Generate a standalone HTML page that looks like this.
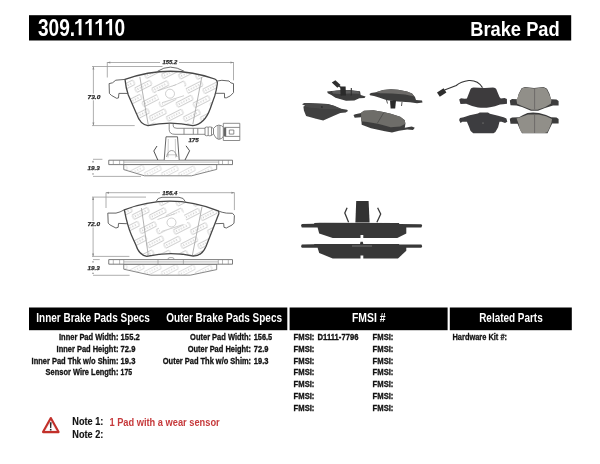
<!DOCTYPE html>
<html><head><meta charset="utf-8">
<style>
html,body{margin:0;padding:0;background:#fff;width:600px;height:464px;overflow:hidden}
svg{display:block;will-change:transform}
text{font-family:"Liberation Sans",sans-serif;font-weight:bold}
</style></head>
<body>
<svg width="600" height="464" viewBox="0 0 600 464">
<!-- title bar -->
<rect x="29" y="15.2" width="542.2" height="25.3" fill="#000"/>
<text x="38" y="35.6" font-size="23" fill="#fff" textLength="87" lengthAdjust="spacingAndGlyphs">309.<tspan fill="none">1111</tspan>0</text>
<path d="M78.7 35.3 L78.7 22.6 Q77.3 24.2 75.2 24.4 L75.2 22.2 Q78.10000000000001 21.6 78.9 19.1 L81.5 19.1 L81.5 35.3 Z" fill="#fff"/><path d="M88.9 35.3 L88.9 22.6 Q87.5 24.2 85.4 24.4 L85.4 22.2 Q88.30000000000001 21.6 89.10000000000001 19.1 L91.7 19.1 L91.7 35.3 Z" fill="#fff"/><path d="M99.0 35.3 L99.0 22.6 Q97.6 24.2 95.5 24.4 L95.5 22.2 Q98.4 21.6 99.2 19.1 L101.8 19.1 L101.8 35.3 Z" fill="#fff"/><path d="M109.3 35.3 L109.3 22.6 Q107.89999999999999 24.2 105.8 24.4 L105.8 22.2 Q108.7 21.6 109.5 19.1 L112.1 19.1 L112.1 35.3 Z" fill="#fff"/>
<text x="470.2" y="36.2" font-size="21" fill="#fff" textLength="89.5" lengthAdjust="spacingAndGlyphs">Brake Pad</text>

<!-- ===== DRAWING (top pad) ===== -->

<defs>
<filter id="soft" x="-5%" y="-20%" width="110%" height="140%"><feGaussianBlur stdDeviation="0.35"/></filter>
<pattern id="logo" patternUnits="userSpaceOnUse" width="30" height="16" patternTransform="rotate(-27) translate(4 2)">
<g fill="none" stroke="#b0b0b0" stroke-width="0.6">
<rect x="1" y="1.5" width="17" height="5" rx="0.8"/>
<path d="M3.5 3v2M6.2 3v2M8.9 3v2M11.6 3v2M14.3 3v2"/>
<rect x="16" y="9.5" width="17" height="5" rx="0.8"/>
<path d="M18.5 11v2M21.2 11v2M23.9 11v2M26.6 11v2M29.3 11v2"/>
<rect x="-14" y="9.5" width="17" height="5" rx="0.8"/>
<path d="M-11.5 11v2M-8.8 11v2M-6.1 11v2M-3.4 11v2M-0.7 11v2"/>
</g>
</pattern>
</defs>
<g id="drawing" fill="none" stroke-linecap="butt" stroke-linejoin="round">
 <!-- dimension lines -->
 <g stroke="#9a9a9a" stroke-width="0.8">
  <path d="M107.3 62.5H160M179 62.5H233.5"/>
  <path d="M107.3 62V77.5M233.5 62V80.3"/>
  <path d="M93.4 66.5V93.6M93.4 100.3V125.6"/>
  <path d="M92 66.5H162.5M92 125.6H134.7"/>
  <path d="M106 192.7H160M179 192.7H234.4"/>
  <path d="M106 192.5V208M234.4 192.5V210.1"/>
  <path d="M93.1 197.1V221M93.1 227.5V256.4"/>
  <path d="M92 197.1H146M92 256.4H129.4"/>
  <path d="M93 159.3H102.4M93 176.4H141"/>
  <path d="M93 259.6H99.7M93 275.3H129.6"/>
 </g>
 <g stroke="#555" stroke-width="0.9">
  <path d="M93 160.9V162.5M93 173.3V174.6M93 261.2V262.5M93 272.7V274"/>
 </g>
 <g fill="#8a8a8a" stroke="none">
  <path d="M107.3 62.5l3 -1v2z M233.5 62.5l-3 -1v2z"/>
  <path d="M93.4 66.5l-1 3h2z M93.4 125.6l-1 -3h2z"/>
  <path d="M106 192.7l3 -1v2z M234.4 192.7l-3 -1v2z"/>
  <path d="M93.1 197.1l-1 3h2z M93.1 256.4l-1 -3h2z"/>
 </g>
 <g fill="#2a2a2a" stroke="#2a2a2a" stroke-width="0.25" font-size="5.6" font-style="italic">
  <text x="162.4" y="64.3" textLength="14.9" lengthAdjust="spacingAndGlyphs">155.2</text>
  <text x="87.5" y="99" textLength="12.8" lengthAdjust="spacingAndGlyphs">73.0</text>
  <text x="188.4" y="141.8" textLength="10.4" lengthAdjust="spacingAndGlyphs">175</text>
  <text x="87.5" y="169.5" textLength="12.3" lengthAdjust="spacingAndGlyphs">19.3</text>
  <text x="162.2" y="194.8" textLength="15.1" lengthAdjust="spacingAndGlyphs">156.4</text>
  <text x="87.4" y="225.7" textLength="12.6" lengthAdjust="spacingAndGlyphs">72.0</text>
  <text x="87.5" y="269.8" textLength="12.3" lengthAdjust="spacingAndGlyphs">19.3</text>
 </g>

 <!-- TOP PAD front view -->
 <path d="M125 79.4 Q170 63.3 214.8 79 Q217.8 80.5 217.3 84 Q216.5 90 214.75 95.9 L210.2 108.8 Q204.5 124.5 192.8 125.6 Q170 120.5 147.9 125.6 Q140 124.5 136.6 113.9 L128.3 95 Q125.8 88 125 79.4 Z" fill="url(#logo)" stroke="#474747" stroke-width="1.3"/>
 <g fill="#fff" stroke="#b0b0b0" stroke-width="0.6" transform="translate(-2 -1.3)"><path d="M158 93 L185 84 L190 96 L163 105 Z" stroke="none"/><circle cx="172" cy="95" r="4.5"/><path d="M160 92 L178 86 M164 104 L186 97"/></g>
 <path d="M157.5 71.3 Q170 63 184.2 71.3" stroke="#5a5a5a" stroke-width="0.9"/>
 <path d="M139.8 76.8 L148.3 125 M201.8 77.1 L192.8 124.3" stroke="#a0a0a0" stroke-width="0.8"/>
 <path d="M125 79.4 L115.8 80.2 L112.5 82.8 L109.1 83.6 L109.4 93.4 L111.3 95.3 L116.6 98.3 L118.5 97.9 L118.9 93.4 L128 93.4" stroke="#555" stroke-width="0.9"/>
 <path d="M217.3 81 L221.9 80.3 L229 81 L230.9 82.9 L233.5 83.6 L233.5 92.6 L230.3 95.9 L226.4 97.8 L224.5 97.8 L224.5 93.3 L215 93.3" stroke="#555" stroke-width="0.9"/>
 <!-- sensor wire -->
 <g stroke="#707070" stroke-width="0.8">
  <path d="M173.2 123.5 V126 Q173.2 128.3 177 128.3 H207"/>
  <path d="M169.2 123.5 V129.5 Q169.2 134.3 175 134.3 H207"/>
  <path d="M184 128.3V134.3 M193.3 128.3V134.3 M197.8 128.3V134.3"/>
  <path d="M205 127.6 Q206.5 126.6 208.2 127.2 Q209.8 126.6 211.5 127.2 L213.5 128.5 L213.5 134 L211.5 135.4 Q209.8 136.2 208.2 135.5 Q206.5 136.2 205 135.2 Z" fill="#fff"/>
  <path d="M208.2 127.2V135.5 M211.5 127.2V135.4"/>
  <path d="M213.5 128.5 Q216 125.1 218.8 125.1 Q222 125.1 224 128 L224 135.5 Q222 139.4 218.8 139.4 Q216 139.4 213.5 134 Z" fill="#fff"/>
  <path d="M218 125.4V139.1 M219.9 125.3V139.2"/>
  <rect x="223.3" y="123.3" width="16.5" height="17.2" fill="#fff"/>
  <path d="M224.5 127.4H239.8 M224.5 136.4H239.8"/>
  <rect x="223.6" y="127.6" width="2.6" height="8.6" fill="#666" stroke="none"/>
  <rect x="229.3" y="130" width="4.5" height="4.1"/>
 </g>

 <!-- TOP side view -->
 <path d="M123.75 164.5 V169.6 L144.5 175.8 L191.5 175.8 L216.7 169.4 V164.5 Z" fill="url(#logo)" stroke="#6a6a6a" stroke-width="0.8" fill-opacity="0.7"/>
 <rect x="108.75" y="160.2" width="123.75" height="4.4" fill="#fff" stroke="#5a5a5a" stroke-width="0.8"/>
 <path d="M123.75 162.1 H218.75" stroke="#8a8a8a" stroke-width="0.6"/>
 <path d="M113.3 160V164.5 M119.6 160V164.5 M123.75 160V164.5 M218.75 160V164.5 M222.5 160V164.5 M228.3 160V164.5" stroke="#888" stroke-width="0.6"/>
 <path d="M164.2 160 L166 136.8 L177.5 136.8 L179.2 160" fill="#fff" stroke="#555" stroke-width="0.9"/>
 <path d="M166.5 157 Q168 150.5 171.7 150.5 Q175.5 150.5 177 157" stroke="#777" stroke-width="0.7"/>
 <path d="M166.8 154.8 H176.8 M168.3 139 L168 157.5 M175.3 139 L175.6 157.5" stroke="#999" stroke-width="0.5"/>
 <path d="M157.8 160 L153.8 151 L157 146" stroke="#3a3a3a" stroke-width="0.9"/>
 <path d="M185 160 L189.6 150.8 L186 145.8" stroke="#3a3a3a" stroke-width="0.9"/>

 <!-- LOWER PAD front view -->
 <path d="M124.3 209.8 Q171 192 218.2 210.9 Q219.2 212 218.7 214 L214.9 223.8 L206 246.5 Q202 256 193.3 256 Q170 251 146.8 256.4 Q139 255 136.2 245.8 L131.4 235 Q127.5 226 124.3 209.8 Z" fill="url(#logo)" stroke="#474747" stroke-width="1.3"/>
 <g fill="#fff" stroke="#b0b0b0" stroke-width="0.6" transform="translate(-2.5 -5.5)"><path d="M158 226 L185 217 L190 229 L163 238 Z" stroke="none"/><circle cx="174" cy="228" r="4.5"/><path d="M160 225 L178 219 M164 237 L186 230"/></g>
 <path d="M156 201.6 Q157.5 197.5 162 197.3 L179 197.3 Q184 197.5 185.3 201.6" stroke="#5a5a5a" stroke-width="0.9"/>
 <path d="M141.4 208 L148.3 255.5 M202 206.8 L192.3 255.5" stroke="#a0a0a0" stroke-width="0.8"/>
 <path d="M124.3 209.8 Q120 212.3 116 213.1 L107.8 213.1 L108.2 223.1 L110.1 225 L115.9 228 L118.2 227.3 L118.5 223.4 L126.9 223.7" stroke="#555" stroke-width="0.9"/>
 <path d="M218.2 210.9 Q222 212.5 226.3 213.1 L232.5 213.3 L234.4 215.5 L234 223.1 L232.1 225 L226.3 228 L224 227.3 L223.7 223.4 L215.3 223.7" stroke="#555" stroke-width="0.9"/>

 <!-- LOWER side view -->
 <path d="M123.75 264.2 V269.2 L150.5 275.2 L190.2 275.2 L216.7 269.6 V264.2 Z" fill="url(#logo)" stroke="#6a6a6a" stroke-width="0.8" fill-opacity="0.7"/>
 <rect x="108.75" y="259.6" width="123.75" height="4.6" fill="#fff" stroke="#5a5a5a" stroke-width="0.8"/>
 <path d="M123.75 261.9 H218.3" stroke="#8a8a8a" stroke-width="0.6"/>
 <path d="M113.3 259.6V264.2 M119.6 259.6V264.2 M123.75 259.6V264.2 M218.3 259.6V264.2 M222.5 259.6V264.2 M228.3 259.6V264.2 M158 259.6V264.2 M183.4 259.6V264.2" stroke="#888" stroke-width="0.6"/>
 <path d="M168 259 Q168 257.6 170 257.6 L172 257.6 Q174 257.6 174 259" stroke="#777" stroke-width="0.6"/>
</g>

<!-- ===== PHOTOS ===== -->
<g id="photos" stroke="none" filter="url(#soft)">
 <!-- photo 1 -->
 <path d="M327.1 91.6 L331.7 90.9 L340 90.2 L349.2 90.1 L360 91.3 L360.7 95.1 L365.6 96.5 L364.5 98 L359.3 98.3 L354.4 100.6 L346 100.8 L335.5 97.8 L331.3 95 L327.8 93.2 Z" fill="#3c3c3c"/>
 <path d="M331.7 91.6 L337 90.6 L349.2 90.3 L358.8 91.5 L359.8 93.8 L350 93.5 L340 94 L333 93.5 Z" fill="#5c5c5c"/>
 <path d="M331.8 82.6 L335.4 80.2 L340.6 85 L337.4 87.8 Z" fill="#2e2e2e"/>
 <path d="M336.5 84.5 L341 87.5" stroke="#333" stroke-width="1.2"/>
 <path d="M340.2 86.4 L345.6 86.4 L346 95.5 L340.6 95.8 Z" fill="#2a2a2a"/>
 <path d="M351.3 88 L351.3 95.5" stroke="#2e2e2e" stroke-width="1.1"/>
 <!-- photo 2 -->
 <path d="M302 104.3 L304.3 103 L308.8 103 L327.7 103.9 L334 105.7 L341.2 108.8 L347.1 109.7 L348 111 L345.7 112.4 L340.3 112.9 L332.2 116.5 L323.2 120.5 L316 118.7 L306.1 116 L303.9 110.6 L303.4 106.6 L305.2 105.7 Z" fill="#414141"/>
 <path d="M304.3 103.2 L327.7 104 L334 105.8 L341 108.9 L325 109 L306 107 Z" fill="#4a4a4a"/>
 <circle cx="321.9" cy="107" r="0.9" fill="#2a2a2a"/>
 <!-- photo 3 -->
 <path d="M369.5 94 L371 93 L376 92.2 L383 90 L391 89.2 L398 89.8 L407 91.5 L412 93.5 L415 97 L416 100 L422 100.5 L422.5 102.5 L417 103.2 L410 102.3 L398 101.5 L387 100.3 L379 97.5 L374 96 L370 95.2 Z" fill="#3c3c3c"/>
 <path d="M376 92.2 L383 90 L391 89.2 L398 89.8 L407 91.5 L412 93.5 L414.5 96.5 L405 94.6 L392 93.4 L380 93.2 Z" fill="#6c6b68"/>
 <path d="M390 100.5 L396 100.5 L395.2 108.6 L390.6 108.6 Z" fill="#2a2a2a"/>
 <path d="M386.5 100 L387.5 103.5 M402 102 L401.5 106" stroke="#444" stroke-width="0.9"/>
 <!-- photo 4 -->
 <path d="M353.5 114.9 L355.3 114.3 L361.1 113 L364 110.8 L373.3 110.3 L383.3 112 L390.8 113.8 L400.2 116.7 L404.8 120.2 L405.4 124 L404.8 127.8 L411.8 126.6 L414.8 127.8 L413 130 L407.2 129.5 L399 130.7 L392 132.4 L385 131.3 L371 128.3 L361.7 124.8 L361.1 117.3 L354.7 117.8 Z" fill="#3e3e3e"/>
 <path d="M361.1 112.6 L364 110.8 L373.3 110.3 L383.3 112 L390.8 113.8 L400.2 116.7 L404.8 120.2 L405.4 123.7 L400.2 126.6 L390.8 127.2 L378 123.7 L367.5 121.9 L361.1 121.3 Z" fill="#6e6d69"/>
 <path d="M383.8 112.6 L377.4 123.1" stroke="#4e4e4c" stroke-width="0.9"/>
 <!-- photo 5 -->
 <path d="M482.5 87.6 Q478 80 468.75 80.5 Q461 81.5 456.25 85.5 L444.5 90" fill="none" stroke="#333" stroke-width="1.1"/>
 <path d="M437 92.4 L443.6 88.2 L446.4 92.6 L439.8 96.8 Z" fill="#2e2e2e"/>
 <path d="M470.6 89 Q471 87.4 473.5 87.4 L485 87.9 L493 87.4 Q495.6 87.4 496.2 89 L499.5 97 L500.8 98.6 L504.5 98 L506.9 99 L507 103.8 L503 104.3 L500 104.4 Q495 106.5 490 107.2 Q484 108.4 478 107.4 Q472 106.5 466.2 103.8 L460.5 104 L459.2 99.5 L461 98.2 L464.8 98.8 L466.9 98.5 Z" fill="#3d3b3e"/>
 <!-- photo 6 -->
 <path d="M477.9 113.5 L479.8 112.6 L488 112.6 L489.9 113.7 L498.1 115.8 L503.6 117.2 L506.4 118.6 L507.3 121.8 L505 123.1 L501.8 121.8 L499.5 121.8 L498.1 127.3 L495.4 131.9 L493.5 133.2 L473.3 133.2 L470.6 130.9 L468.8 126.3 L466.9 121.8 L462.3 121.8 L460.5 123.1 L459.1 119.9 L460 118.1 L463.7 117.2 L469.7 115.3 Z" fill="#3e3c3f"/>
 <circle cx="483" cy="123.1" r="0.8" fill="#6a6a6a"/>
 <!-- photo 7 -->
 <path d="M509.8 100.5 L512 99 L517.5 99.2 L518.6 94 L521.6 88.2 L524.9 86.9 L534 88.1 L543.6 86.9 L547 88.8 L549.6 94 L551 99.2 L556.5 99.4 L558.6 101 L558.6 105.6 L553 105.6 L545 108 L538 110.8 L531 110.8 L522 107 L516.5 105.4 L510.5 105.2 Z" fill="#3c3c3c"/>
 <path d="M521.9 88.6 L524.9 87.4 L534 88.6 L543.6 87.4 L546.6 89.2 L549 94.1 L551.4 100.1 L550.8 103.7 L544.8 107.3 L537.6 109.7 L531.5 109.7 L521.9 106.1 L517.1 103.7 L516.5 100.1 L518.9 94.1 Z" fill="#918f89"/>
 <path d="M534.6 89 L534.6 109.5" stroke="#6e6c69" stroke-width="1"/>
 <!-- photo 8 -->
 <path d="M509.8 118.8 L512 117.6 L519 117.2 L523.1 115 L527.5 113 Q533 112 539 113 L546 115 L551.2 117.2 L556.5 117.6 L558.6 119 L558.6 123.6 L552.2 123.6 L549.5 129 L547.5 133.2 L522 133.2 L519.8 129 L517.5 123.8 L510.5 123.8 Z" fill="#3a3a3a"/>
 <path d="M516.5 118.6 L523.1 116.2 L527.9 114.5 L538.8 114.5 L546 116.2 L552 119 L551.4 123 L549 129 L547.2 132.2 L544.8 133 L522.5 133 L520.5 131 L519.5 128 L518.3 123 Z" fill="#918f89"/>
 <path d="M534.6 115 L534.6 133" stroke="#6e6c69" stroke-width="1"/>
 <!-- side view photos -->
 <g fill="#393939">
  <path d="M355.4 222.4 L356.2 201 L368.6 201 L369.6 222.4 Z" fill="#333"/>
  <path d="M301.8 223.9 L313.9 223.7 L314.5 222.9 L320 222.7 L398.8 222.9 L399.5 224 L421.4 224.2 L422.2 225.6 L421.4 227.5 L406.3 227.5 L406.3 233.5 L397.3 238 L363.3 238 L363.3 235 L360.5 235 L360.5 238 L332.7 238 L319.2 233.5 L317.6 227.5 L301.8 227.5 L301 225.6 Z"/>
  <path d="M301.8 244.4 L313.9 244.2 L314.5 243.9 L360 243.9 L360.5 241.8 L362.8 241.8 L363.3 243.9 L398.8 243.9 L399.5 244.4 L421.4 244.5 L422.2 246.2 L421.4 247.8 L406.3 247.8 L406.3 250.8 L398 258.4 L363.3 258.4 L363.3 255.4 L360.5 255.4 L360.5 258.4 L332.7 258.4 L319.2 253.1 L317.6 247.8 L301.8 247.8 L301 246.2 Z"/>
 </g>
 <path d="M352 246 L372 246" stroke="#707070" stroke-width="1"/>
 <path d="M347.1 207.8 L344.8 213.1 L348.6 222.2 M377.6 207.8 L380.7 213.9 L376.9 222.2" fill="none" stroke="#3a3a3a" stroke-width="1.3"/>

</g>

<!-- table headers -->
<rect x="29" y="307.5" width="258.3" height="22.7" fill="#000"/>
<rect x="289.6" y="307.5" width="158" height="22.7" fill="#000"/>
<rect x="449.8" y="307.5" width="122" height="22.7" fill="#000"/>
<g fill="#fff" font-size="12">
<text x="36.3" y="322.2" textLength="113.6" lengthAdjust="spacingAndGlyphs">Inner Brake Pads Specs</text>
<text x="166.2" y="322.2" textLength="115.8" lengthAdjust="spacingAndGlyphs">Outer Brake Pads Specs</text>
<text x="352" y="322.2" textLength="33.5" lengthAdjust="spacingAndGlyphs">FMSI #</text>
<text x="479.2" y="322.2" textLength="63.5" lengthAdjust="spacingAndGlyphs">Related Parts</text>
</g>

<g fill="#111" stroke="#111" stroke-width="0.32" font-size="9">
<text x="59" y="340.3" textLength="59.4" lengthAdjust="spacingAndGlyphs">Inner Pad Width:</text>
<text x="56.6" y="352" textLength="61.8" lengthAdjust="spacingAndGlyphs">Inner Pad Height:</text>
<text x="31.6" y="363.7" textLength="86.8" lengthAdjust="spacingAndGlyphs">Inner Pad Thk w/o Shim:</text>
<text x="45.6" y="375.4" textLength="72.8" lengthAdjust="spacingAndGlyphs">Sensor Wire Length:</text>
<text x="120.6" y="340.3" textLength="19.2" lengthAdjust="spacingAndGlyphs">155.2</text>
<text x="120.6" y="352" textLength="14.8" lengthAdjust="spacingAndGlyphs">72.9</text>
<text x="120.6" y="363.7" textLength="14.8" lengthAdjust="spacingAndGlyphs">19.3</text>
<text x="120.6" y="375.4" textLength="11.5" lengthAdjust="spacingAndGlyphs">175</text>

<text x="190.1" y="340.3" textLength="61" lengthAdjust="spacingAndGlyphs">Outer Pad Width:</text>
<text x="187.7" y="352" textLength="63.4" lengthAdjust="spacingAndGlyphs">Outer Pad Height:</text>
<text x="162.8" y="363.7" textLength="88.3" lengthAdjust="spacingAndGlyphs">Outer Pad Thk w/o Shim:</text>
<text x="253.8" y="340.3" textLength="18.3" lengthAdjust="spacingAndGlyphs">156.5</text>
<text x="253.8" y="352" textLength="14.6" lengthAdjust="spacingAndGlyphs">72.9</text>
<text x="253.8" y="363.7" textLength="14.6" lengthAdjust="spacingAndGlyphs">19.3</text>

<text x="293.6" y="340.3" textLength="20.8" lengthAdjust="spacingAndGlyphs">FMSI:</text>
<text x="293.6" y="352" textLength="20.8" lengthAdjust="spacingAndGlyphs">FMSI:</text>
<text x="293.6" y="363.7" textLength="20.8" lengthAdjust="spacingAndGlyphs">FMSI:</text>
<text x="293.6" y="375.4" textLength="20.8" lengthAdjust="spacingAndGlyphs">FMSI:</text>
<text x="293.6" y="387.1" textLength="20.8" lengthAdjust="spacingAndGlyphs">FMSI:</text>
<text x="293.6" y="398.8" textLength="20.8" lengthAdjust="spacingAndGlyphs">FMSI:</text>
<text x="293.6" y="410.5" textLength="20.8" lengthAdjust="spacingAndGlyphs">FMSI:</text>
<text x="317.6" y="340.3" textLength="40.8" lengthAdjust="spacingAndGlyphs">D1111-7796</text>
<text x="372.6" y="340.3" textLength="20.8" lengthAdjust="spacingAndGlyphs">FMSI:</text>
<text x="372.6" y="352" textLength="20.8" lengthAdjust="spacingAndGlyphs">FMSI:</text>
<text x="372.6" y="363.7" textLength="20.8" lengthAdjust="spacingAndGlyphs">FMSI:</text>
<text x="372.6" y="375.4" textLength="20.8" lengthAdjust="spacingAndGlyphs">FMSI:</text>
<text x="372.6" y="387.1" textLength="20.8" lengthAdjust="spacingAndGlyphs">FMSI:</text>
<text x="372.6" y="398.8" textLength="20.8" lengthAdjust="spacingAndGlyphs">FMSI:</text>
<text x="372.6" y="410.5" textLength="20.8" lengthAdjust="spacingAndGlyphs">FMSI:</text>

<text x="452.5" y="340.3" textLength="54.5" lengthAdjust="spacingAndGlyphs">Hardware Kit #:</text>
</g>

<!-- notes -->
<g>
<path d="M50.8 418 L58.6 432.1 L43 432.1 Z" fill="#f6e2e2" stroke="#c2302a" stroke-width="2.1" stroke-linejoin="round"/>
<path d="M50.8 421.2 L55.6 430.3 L46 430.3 Z" fill="#fff"/>
<path d="M49.8 422.3 L51.6 422.3 L51.3 428 L50.1 428 Z" fill="#2a2a2a"/>
<rect x="49.9" y="428.9" width="1.6" height="1.6" fill="#2a2a2a"/>
</g>
<g font-size="10" stroke-width="0.15">
<text x="72.3" y="424.5" fill="#111" stroke="#111" textLength="31" lengthAdjust="spacingAndGlyphs">Note 1:</text>
<text x="72.3" y="438" fill="#111" stroke="#111" textLength="31" lengthAdjust="spacingAndGlyphs">Note 2:</text>
<text x="109.4" y="425.5" fill="#c63a3c" textLength="110.3" lengthAdjust="spacingAndGlyphs">1 Pad with a wear sensor</text>
</g>
</svg>
</body></html>
